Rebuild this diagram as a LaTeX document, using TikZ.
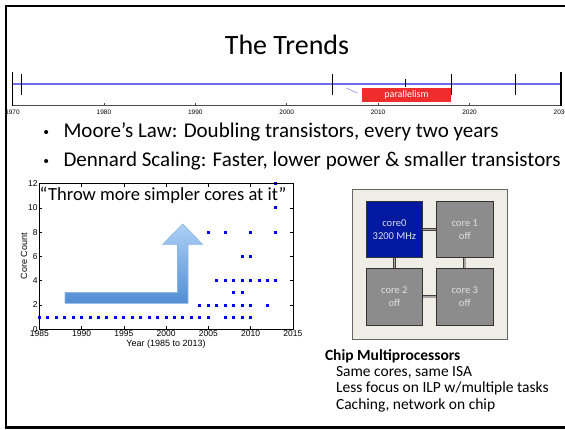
\documentclass[tikz,border=0pt]{standalone}
\usepackage{fontspec}
\setmainfont{Carlito}
\newfontfamily\plotfont{Liberation Sans}
\definecolor{tlblue}{RGB}{110,110,235}
\definecolor{parred}{RGB}{240,45,45}
\definecolor{chipbg}{RGB}{238,238,230}
\definecolor{coreblue}{RGB}{0,25,160}
\definecolor{coregray}{RGB}{140,140,140}
\definecolor{arrtop}{RGB}{172,208,246}
\definecolor{arrbot}{RGB}{82,142,212}
\definecolor{arredge}{RGB}{140,180,225}
\newcommand{\bulletdot}{\makebox[21pt][l]{\hspace{1pt}\plotfont\fontsize{15}{15}\selectfont•}}
\tikzset{
  core/.style={draw=black!80,line width=0.8pt,minimum width=56.7pt,minimum height=56.4pt,
    text=black!12,font=\fontsize{10.5}{12.5}\selectfont,align=center,inner sep=0pt},
  link/.style={draw=black!75,line width=0.8pt,double=black!35,double distance=1.6pt},
  bulletline/.style={anchor=base west,font=\fontsize{21}{25}\selectfont},
  chipline/.style={anchor=base west,font=\fontsize{15.5}{17}\selectfont},
  evtick/.style={line width=0.9pt},
  ticklbl/.style={font=\plotfont\fontsize{8.5}{9}\selectfont,inner sep=1.5pt},
}
\begin{document}
\begin{tikzpicture}[x=1pt,y=-1pt]
  \useasboundingbox (0,0) rectangle (565,429);
  \node[font=\fontsize{28}{34}\selectfont] (title) at (287,45) {The Trends};
  \begin{scope}[shift={(12.5,0)},x=9.14pt]
    \draw[tlblue,line width=1.5pt] (0,84) -- (60,84);
    \draw[black!70,line width=0.6pt] (0,104.8) -- (60,104.8);
    \foreach \yr in {1980,1990,...,2020}{\draw[black!70,line width=0.5pt] (\yr-1970,104.8) -- (\yr-1970,102.6);}
    \foreach \yr in {1970,1980,...,2030}{\node[font=\plotfont\fontsize{6.5}{7}\selectfont] (y\yr) at (\yr-1970,112.5) {\yr};}
    \draw[line width=1.2pt] (0,72) -- (0,106);
    \draw[line width=1.8pt] (60,72) -- (60,106);
    \foreach \yr in {1971,2005,2018,2025}{\draw[evtick] (\yr-1970,74) -- (\yr-1970,95);}
    \draw[evtick] (43,79) -- (43,87);
    \node[fill=parred,text=white,minimum width=89pt,minimum height=14pt,inner sep=0pt,
      font=\fontsize{10}{12}\selectfont] (par) at (43.1,95) {parallelism};
    \coordinate (callout) at (36.5,88);
    \draw[tlblue!60,line width=0.8pt,shorten >=5pt] (callout) -- (par.west);
  \end{scope}
  \node[bulletline] (moore) at (39,137) {\bulletdot Moore’s Law: Doubling transistors, every two years};
  \node[bulletline] (dennard) at (39,166) {\bulletdot Dennard Scaling: Faster, lower power \& smaller transistors};
  \begin{scope}[shift={(39.3,329.3)},x=8.45pt,y=12.15pt]
    \foreach \c/\yrs in {1/{0,1,2,3,4,5,6,7,8,9,10,11,12,13,14,15,16,17,18,19,20,22,23,24,25},
        2/{19,20,21,22,23,24,25,27},3/{23,24},4/{21,22,23,24,25,26,27,28},
        6/{24,25},8/{20,22,25,28},10/{28},12/{28}}{
      \foreach \yr in \yrs{\fill[blue] (\yr,\c) ++(-1.5pt,-1.5pt) rectangle ++(3pt,3pt);}
    }
    \draw[line width=0.6pt] (0,0) rectangle (30,12);
    \foreach \yr in {1985,1990,...,2015}{
      \draw[line width=0.5pt] (\yr-1985,0) -- ++(0,3pt) (\yr-1985,12) -- ++(0,-3pt);
      \node[ticklbl,anchor=north] (x\yr) at (\yr-1985,0) {\yr};
    }
    \foreach \c in {0,2,...,12}{
      \draw[line width=0.5pt] (0,\c) -- ++(3pt,0) (30,\c) -- ++(-3pt,0);
      \node[ticklbl,anchor=east] (c\c) at (0,\c) {\c};
    }
    \node[font=\plotfont\fontsize{9}{10}\selectfont,rotate=90] (ylabel) at (-1.8,6) {Core Count};
    \node[font=\plotfont\fontsize{9}{10}\selectfont] (xlabel) at (15,-1.2) {Year (1985 to 2013)};
  \end{scope}
  \draw[arredge,line width=0.6pt,top color=arrtop,bottom color=arrbot]
    (65,292.3) -- (177.5,292.3) -- (177.5,244.3) -- (162.7,244.3) -- (182.7,224)
    -- (202.5,244.3) -- (188,244.3) -- (188,303.3) -- (65,303.3) -- cycle;
  \node[font=\fontsize{18.5}{22}\selectfont] (quote) at (163,195) {“Throw more simpler cores at it”};
  \filldraw[fill=chipbg,draw=black!60,line width=0.8pt] (352.3,189) rectangle (507.3,339.3);
  \node[core,fill=coreblue] (core0) at (394.35,229.5) {core0\\3200 MHz};
  \node[core,fill=coregray] (core1) at (464.8,229.5) {core 1\\off};
  \node[core,fill=coregray] (core2) at (394.35,296.85) {core 2\\off};
  \node[core,fill=coregray] (core3) at (464.8,296.85) {core 3\\off};
  \draw[link] (core0) -- (core1);
  \draw[link] (core0) -- (core2);
  \draw[link] (core1) -- (core3);
  \draw[link] (core2) -- (core3);
  \node[chipline,font=\bfseries\fontsize{15.5}{17}\selectfont] (cmp) at (321.5,360) {Chip Multiprocessors};
  \node[chipline] (isa) at (332.5,376.5) {Same cores, same ISA};
  \node[chipline] (ilp) at (332.5,392.8) {Less focus on ILP w/multiple tasks};
  \node[chipline] (noc) at (332.5,409) {Caching, network on chip};
  \draw[line width=2.2pt] (565,6) -- (6,6) -- (6,427.5) -- (565,427.5);
\end{tikzpicture}
\end{document}
